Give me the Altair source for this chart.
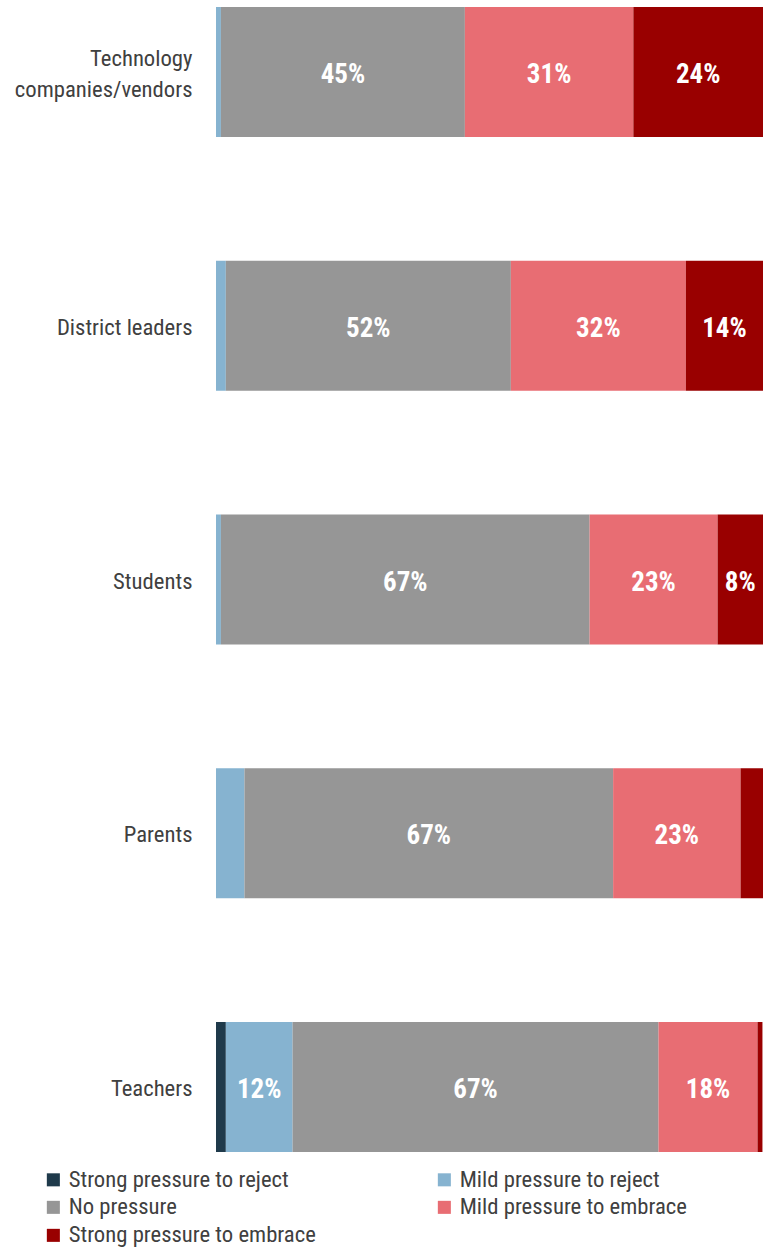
import altair as alt
import pandas as pd

groups = ["Technology companies/vendors", "District leaders", "Students", "Parents", "Teachers"]
levels = ["Strong pressure to reject", "Mild pressure to reject", "No pressure",
          "Mild pressure to embrace", "Strong pressure to embrace"]
colors = ["#1f3a4b", "#86b3d0", "#969696", "#e86d73", "#990000"]

strong_reject = [0.0, 0.0, 0.0, 0.0, 1.8]
mild_reject = [0.9, 1.8, 0.9, 5.2, 12.2]
no_pressure = [44.6, 52.1, 67.4, 67.4, 66.9]
mild_embrace = [30.8, 32.0, 23.4, 23.3, 18.1]
strong_embrace = [23.7, 14.1, 8.3, 4.1, 0.9]

series = [strong_reject, mild_reject, no_pressure, mild_embrace, strong_embrace]
rows = []
for li, (lvl, vals) in enumerate(zip(levels, series)):
    for g, v in zip(groups, vals):
        rows.append({"group": g, "level": lvl, "order": li, "value": v})
df = pd.DataFrame(rows)

FONT = "Roboto Condensed, Liberation Sans Narrow, Roboto"

base = alt.Chart(df).transform_stack(
    stack="value", groupby=["group"], sort=[alt.SortField("order")], as_=["v0", "v1"]
)

yenc = alt.Y("group:N", sort=groups, title=None,
             scale=alt.Scale(paddingInner=0.488, paddingOuter=0.0276),
             axis=alt.Axis(domain=False, ticks=False, labelFontSize=22.7, labelPadding=24,
                           labelColor="#404040", labelFont=FONT, labelLineHeight=31,
                           labelLimit=300,
                           labelOffset={"condition": {"test": "datum.label == 'Technology companies/vendors'", "value": -13}, "value": 2},
                           labelExpr="datum.label == 'Technology companies/vendors' ? ['Technology', 'companies/vendors'] : datum.label"))

bars = base.mark_bar(strokeWidth=0).encode(
    x=alt.X("v0:Q", scale=alt.Scale(domain=[0, 100], nice=False), axis=None),
    x2="v1:Q",
    y=yenc,
    color=alt.Color("level:N", sort=levels,
                    scale=alt.Scale(domain=levels, range=colors),
                    legend=alt.Legend(title=None, orient="none", legendX=-174, legendY=1168,
                                      columns=2, direction="horizontal",
                                      symbolType="square", symbolSize=170,
                                      symbolStrokeWidth=0, labelFontSize=22.7, labelFont=FONT,
                                      labelColor="#404040", rowPadding=4, columnPadding=117,
                                      labelLimit=400)),
)

texts = base.transform_filter("datum.value >= 6").transform_calculate(
    mid="(datum.v0 + datum.v1) / 2",
    pct="round(datum.value) + '%'"
).mark_text(color="white", fontWeight="bold", fontSize=27, font=FONT, dy=3).encode(
    x="mid:Q",
    y=alt.Y("group:N", sort=groups),
    text="pct:N",
)

chart = (bars + texts).properties(
    width=547, height=1159,
    autosize=alt.AutoSizeParams(type="none"),
    padding={"left": 216, "top": 0, "right": 10, "bottom": 90},
).configure_view(stroke=None)

chart.save("out.html", embed_options={"renderer": "svg", "actions": False})
